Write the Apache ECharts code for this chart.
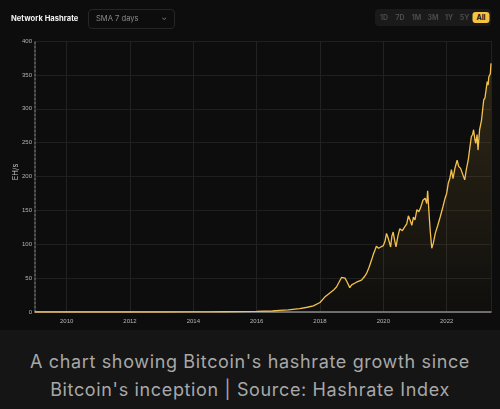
<!DOCTYPE html>
<html><head><meta charset="utf-8">
<script src="https://cdn.jsdelivr.net/npm/echarts@6/dist/echarts.min.js"></script>
<style>
html,body{margin:0;padding:0;width:500px;height:409px;background:#151515;overflow:hidden;font-family:Inter,"Noto Sans",sans-serif;}
#panel{position:absolute;left:0;top:0;width:500px;height:330px;background:#0d0d0d;}
#chart{position:absolute;left:0;top:0;width:500px;height:330px;}
#title{position:absolute;left:11px;top:14px;color:#f2f2f2;font-weight:700;font-size:7.6px;}
#dd{position:absolute;left:88px;top:9px;width:87px;height:20px;border:1px solid #262626;border-radius:4px;box-sizing:border-box;color:#8a8a8a;font-size:7.6px;line-height:18px;padding-left:7px;}
#dd span{position:absolute;right:7px;top:-1px;font-size:7px;color:#8a8a8a;}
#btns{position:absolute;left:375px;top:9px;width:116px;height:17px;background:#1a1a1a;border-radius:4px;}
.b{position:absolute;top:0;height:17px;line-height:17px;font-size:7px;font-weight:700;color:#4a4a4a;transform:translateX(-50%);}
.b.on{top:3px;height:11px;line-height:11px;background:#f5c242;color:#111;border-radius:3px;padding:0 4px;}
#cap{position:absolute;left:0;top:348px;width:500px;text-align:center;color:#a8a8a8;font-size:18px;line-height:28px;letter-spacing:0.65px;}
</style></head>
<body>
<div id="panel"></div>
<div id="chart"></div>
<div id="title">Network Hashrate</div>
<div id="dd">SMA 7 days<span>&#8964;</span></div>
<div id="btns"></div>
<div id="cap">A chart showing Bitcoin's hashrate growth since<br>Bitcoin's inception | Source: Hashrate Index</div>
<script>
const rangeButtons = ['1D','7D','1M','3M','1Y','5Y','All'];
const yAxisTitle = 'EH/s';
const yTicks = [0,50,100,150,200,250,300,350,400];
const yearLabels = [2010,2012,2014,2016,2018,2020,2022];
const years = [2009.0,2010,2011,2012,2013,2014,2014.5,2015,2015.5,2016,2016.5,2016.73,2017,2017.36,2017.6,2017.79,2018.0,2018.15,2018.31,2018.42,2018.52,2018.6,2018.68,2018.73,2018.79,2018.86,2018.94,2019.0,2019.05,2019.15,2019.31,2019.4,2019.47,2019.55,2019.63,2019.69,2019.74,2019.78,2019.85,2019.92,2020.0,2020.05,2020.1,2020.16,2020.23,2020.27,2020.31,2020.36,2020.4,2020.46,2020.52,2020.6,2020.68,2020.74,2020.79,2020.85,2020.9,2020.95,2021.0,2021.06,2021.12,2021.17,2021.25,2021.32,2021.37,2021.4,2021.44,2021.48,2021.53,2021.58,2021.64,2021.72,2021.8,2021.88,2021.95,2022.0,2022.05,2022.1,2022.15,2022.2,2022.26,2022.33,2022.38,2022.44,2022.5,2022.57,2022.62,2022.68,2022.73,2022.78,2022.82,2022.85,2022.89,2022.92,2022.96,2022.99,2023.04,2023.1,2023.14,2023.17,2023.21,2023.24,2023.28,2023.31,2023.33,2023.36,2023.38,2023.4];
const hashrate = [0,0,0,0,0.01,0.1,0.2,0.35,0.45,0.8,1.5,2.5,3,5,7,9,14,22,28,32,37,44,51,52,50,44,36,40,42,44,47,52,57,66,77,86,92,97,94,96,98,104,116,108,96,112,118,105,96,112,123,120,126,130,142,135,128,140,136,151,148,153,165,168,160,179,148,120,94,102,116,128,141,155,168,175,190,197,210,197,212,224,215,212,214,195,210,224,242,259,262,269,255,249,262,239,269,283,300,313,316,318,340,335,347,345,352,367];

const btnPos = [9,25,41.5,58,74,89.5,106];
const bw = document.getElementById('btns');
rangeButtons.forEach((t,i)=>{const d=document.createElement('div');d.className='b'+(t==='All'?' on':'');d.style.left=btnPos[i]+'px';d.textContent=t;bw.appendChild(d);});

const chart = echarts.init(document.getElementById('chart'), null, {renderer:'canvas'});
chart.setOption({
  backgroundColor:'transparent',
  animation:false,
  grid:{left:35,right:9,top:41,bottom:18},
  graphic:[{type:'text',x:16,y:172,rotation:Math.PI/2,
    style:{text:yAxisTitle,fill:'#c0c0c0',fontSize:7.5,fontFamily:'Inter',textAlign:'center',textVerticalAlign:'middle'}}],
  xAxis:{type:'value',min:2009,max:2023.4,interval:1,
    axisLine:{show:true,lineStyle:{color:'#8a8a8a',width:1.5}},
    axisTick:{show:false},
    axisLabel:{color:'#b5b5b5',fontSize:6,margin:6,formatter:v=>yearLabels.includes(v)?String(v):''},
    splitLine:{show:true,lineStyle:{color:['transparent','#222222'],width:1}}
  },
  yAxis:{type:'value',min:0,max:400,interval:50,
    axisLine:{show:true,lineStyle:{color:'#6a6a6a',type:[2,2],width:1.5}},
    axisTick:{show:false},
    axisLabel:{color:'#b5b5b5',fontSize:6,margin:3},
    splitLine:{show:true,lineStyle:{color:'#1f1f1f',width:1}}
  },
  series:[{type:'line',data:years.map((y,i)=>[y,hashrate[i]]),showSymbol:false,smooth:false,
    lineStyle:{color:'#f4c14f',width:1.3},
    itemStyle:{color:'#f4c14f'},
    areaStyle:{color:new echarts.graphic.LinearGradient(0,0,0,1,[{offset:0,color:'rgba(244,193,79,0.22)'},{offset:1,color:'rgba(244,193,79,0.02)'}])}
  }]
});
</script>
</body></html>
